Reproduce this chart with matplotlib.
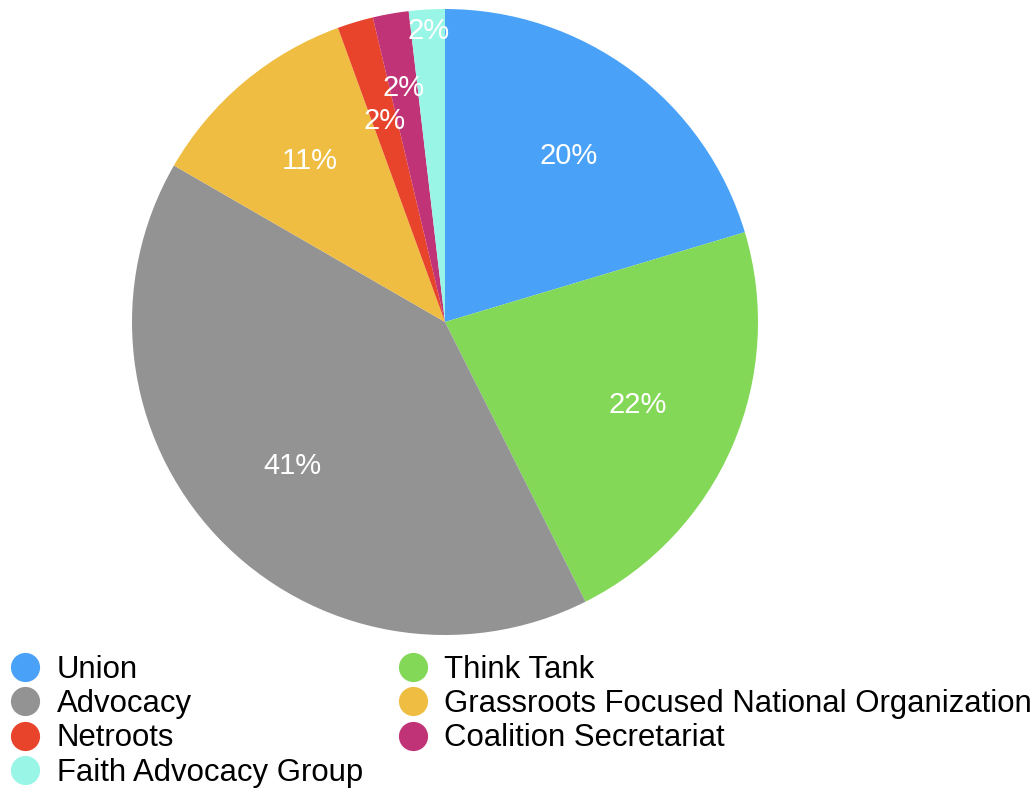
import numpy as np
import matplotlib
matplotlib.use("Agg")
import matplotlib.pyplot as plt
from matplotlib.lines import Line2D

plt.rcParams['font.family'] = ['Liberation Sans', 'DejaVu Sans']

categories = ["Union", "Think Tank", "Advocacy",
              "Grassroots Focused National Organization",
              "Netroots", "Coalition Secretariat", "Faith Advocacy Group"]
counts = [11, 12, 22, 6, 1, 1, 1]
colors = ["#4aa2f8", "#84d858", "#939393", "#eebd41",
          "#e8432b", "#c03376", "#99f6e7"]
label_radius = [0.66, 0.67, 0.67, 0.67, 0.67, 0.76, 0.93]

W, H = 1036, 789
fig = plt.figure(figsize=(W / 100, H / 100), dpi=100)

# pie centre (445, 322) px, radius 313 px
cx, cy, r = 445, 322, 313
ax = fig.add_axes([(cx - r) / W, (H - cy - r) / H, 2 * r / W, 2 * r / H])

wedges, texts, autotexts = ax.pie(
    counts, colors=colors, startangle=90, counterclock=False,
    autopct=lambda p: f"{p:.0f}%", pctdistance=0.67,
    wedgeprops=dict(linewidth=0),
    textprops=dict(color="white", fontsize=21))

# push the small labels outward so they don't collide
for w, t, rad in zip(wedges, autotexts, label_radius):
    theta = np.deg2rad((w.theta1 + w.theta2) / 2)
    t.set_position((rad * np.cos(theta), rad * np.sin(theta)))

ax.set_xlim(-1, 1)
ax.set_ylim(-1, 1)
ax.set_aspect('equal')
ax.axis('off')

# legend reads row by row in the reference -> reorder for column filling
order = [0, 2, 4, 6, 1, 3, 5]
handles = [Line2D([], [], linestyle='none', marker='o', markersize=21,
                  markerfacecolor=colors[i], markeredgewidth=0)
           for i in order]
labels = [categories[i] for i in order]
fig.legend(handles, labels, ncol=2, loc='upper left',
           bbox_to_anchor=(-0.012, (H - 633) / H), frameon=False,
           fontsize=22.4, handlelength=1.0, handletextpad=0.52,
           labelspacing=0.14, columnspacing=1.1, borderpad=0.2)

fig.savefig("out.png", dpi=100)
